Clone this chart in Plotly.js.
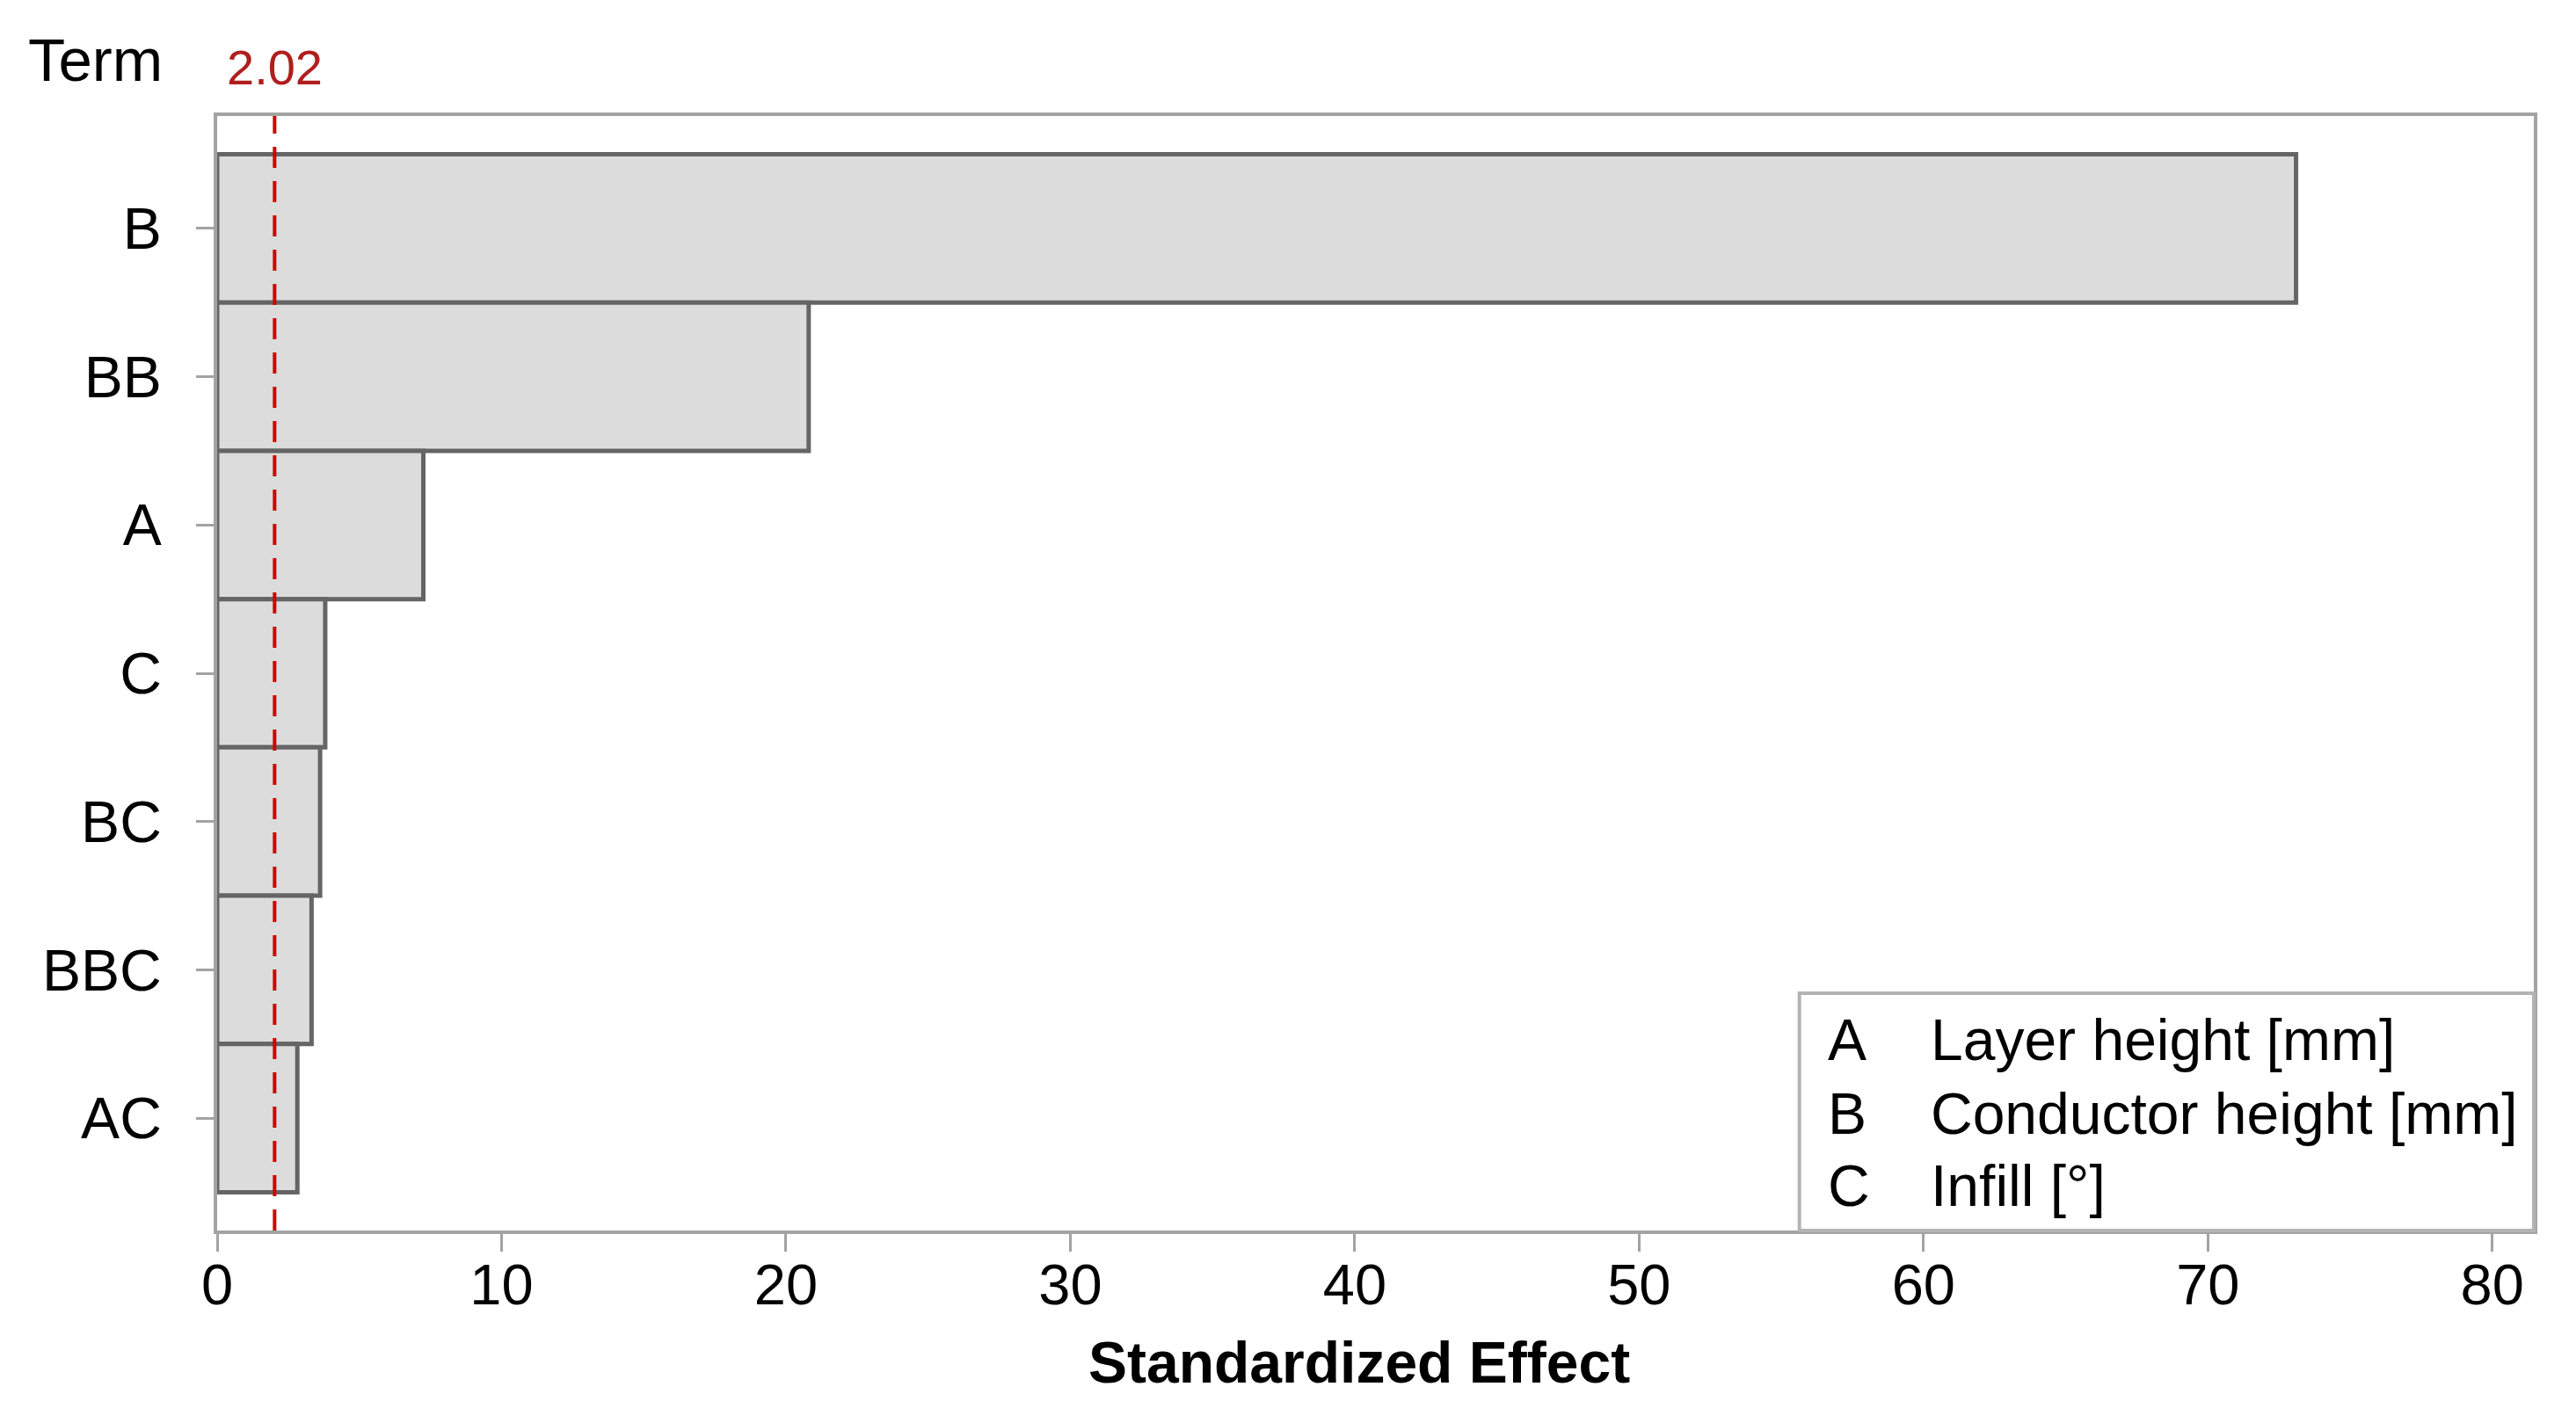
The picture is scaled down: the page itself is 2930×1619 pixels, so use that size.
<!DOCTYPE html>
<html>
<head>
<meta charset="utf-8">
<script src="https://cdn.plot.ly/plotly-3.0.1.min.js"></script>
<style>html,body{margin:0;padding:0;background:#fff;}#chart{width:2930px;height:1619px;}</style>
</head>
<body>
<div id="chart"></div>
<script>
// ---- data ----
const terms = ['B', 'BB', 'A', 'C', 'BC', 'BBC', 'AC'];
const effects = [73.1, 20.8, 7.25, 3.8, 3.62, 3.32, 2.82];
const criticalValue = 2.02;
const criticalLabel = '2.02';
const factorCodes = ['A', 'B', 'C'];
const factorNames = ['Layer height [mm]', 'Conductor height [mm]', 'Infill [°]'];
const xTickValues = [0, 10, 20, 30, 40, 50, 60, 70, 80];

const FONT = 'Liberation Sans, Arial, sans-serif';
const GRID = '#a3a3a3';

const trace = {
  type: 'bar',
  orientation: 'h',
  x: effects,
  y: terms,
  width: 1,
  marker: { color: '#dcdcdc', line: { color: '#656565', width: 5 } },
  hoverinfo: 'x+y'
};

const legendRowsY = [0.171, 0.105, 0.040];
const annotations = [
  { xref: 'paper', yref: 'paper', x: -0.0822, y: 1.05, xanchor: 'left', yanchor: 'middle',
    text: 'Term', showarrow: false, font: { family: FONT, size: 69, color: '#000' } },
  { xref: 'x', yref: 'paper', x: criticalValue, y: 1.044, xanchor: 'center', yanchor: 'middle',
    text: criticalLabel, showarrow: false, font: { family: FONT, size: 56, color: '#b01e1e' } },
  { xref: 'paper', yref: 'paper', x: 0.4929, y: -0.118, xanchor: 'center', yanchor: 'middle',
    text: '<b>Standardized Effect</b>', showarrow: false, font: { family: FONT, size: 66, color: '#000' } }
];
factorCodes.forEach((c, i) => {
  annotations.push({ xref: 'paper', yref: 'paper', x: 0.6945, y: legendRowsY[i], xanchor: 'left', yanchor: 'middle',
    text: c, showarrow: false, font: { family: FONT, size: 66, color: '#000' } });
  annotations.push({ xref: 'paper', yref: 'paper', x: 0.7390, y: legendRowsY[i], xanchor: 'left', yanchor: 'middle',
    text: factorNames[i], showarrow: false, font: { family: FONT, size: 66, color: '#000' } });
});

const layout = {
  width: 2930, height: 1619,
  margin: { l: 247, r: 48, t: 132, b: 219 },
  paper_bgcolor: '#fff', plot_bgcolor: '#fff',
  showlegend: false,
  bargap: 0,
  font: { family: FONT, size: 64, color: '#000' },
  xaxis: {
    range: [0, 81.46],
    tickvals: xTickValues,
    ticks: 'outside', ticklen: 20, tickwidth: 3, tickcolor: GRID,
    ticklabelstandoff: -18,
    showgrid: false, zeroline: false,
    showline: true, linecolor: GRID, linewidth: 4, mirror: true,
    tickfont: { family: FONT, size: 65, color: '#000' }
  },
  yaxis: {
    type: 'category',
    range: [6.758, -0.758],
    ticks: 'outside', ticklen: 20, tickwidth: 3, tickcolor: GRID,
    ticklabelstandoff: 26,
    showgrid: false, zeroline: false,
    showline: true, linecolor: GRID, linewidth: 4, mirror: true,
    tickfont: { family: FONT, size: 66, color: '#000' }
  },
  shapes: [
    { type: 'line', xref: 'x', yref: 'paper', x0: criticalValue, x1: criticalValue, y0: 0, y1: 1,
      line: { color: '#d40000', width: 4, dash: '24px,15px' }, layer: 'above' },
    { type: 'rect', xref: 'paper', yref: 'paper', x0: 0.683, x1: 1, y0: 0, y1: 0.213,
      fillcolor: '#fff', line: { color: '#b3b3b3', width: 4 }, layer: 'above' }
  ],
  annotations: annotations
};

Plotly.newPlot('chart', [trace], layout, { displayModeBar: false, staticPlot: true });
</script>
</body>
</html>
